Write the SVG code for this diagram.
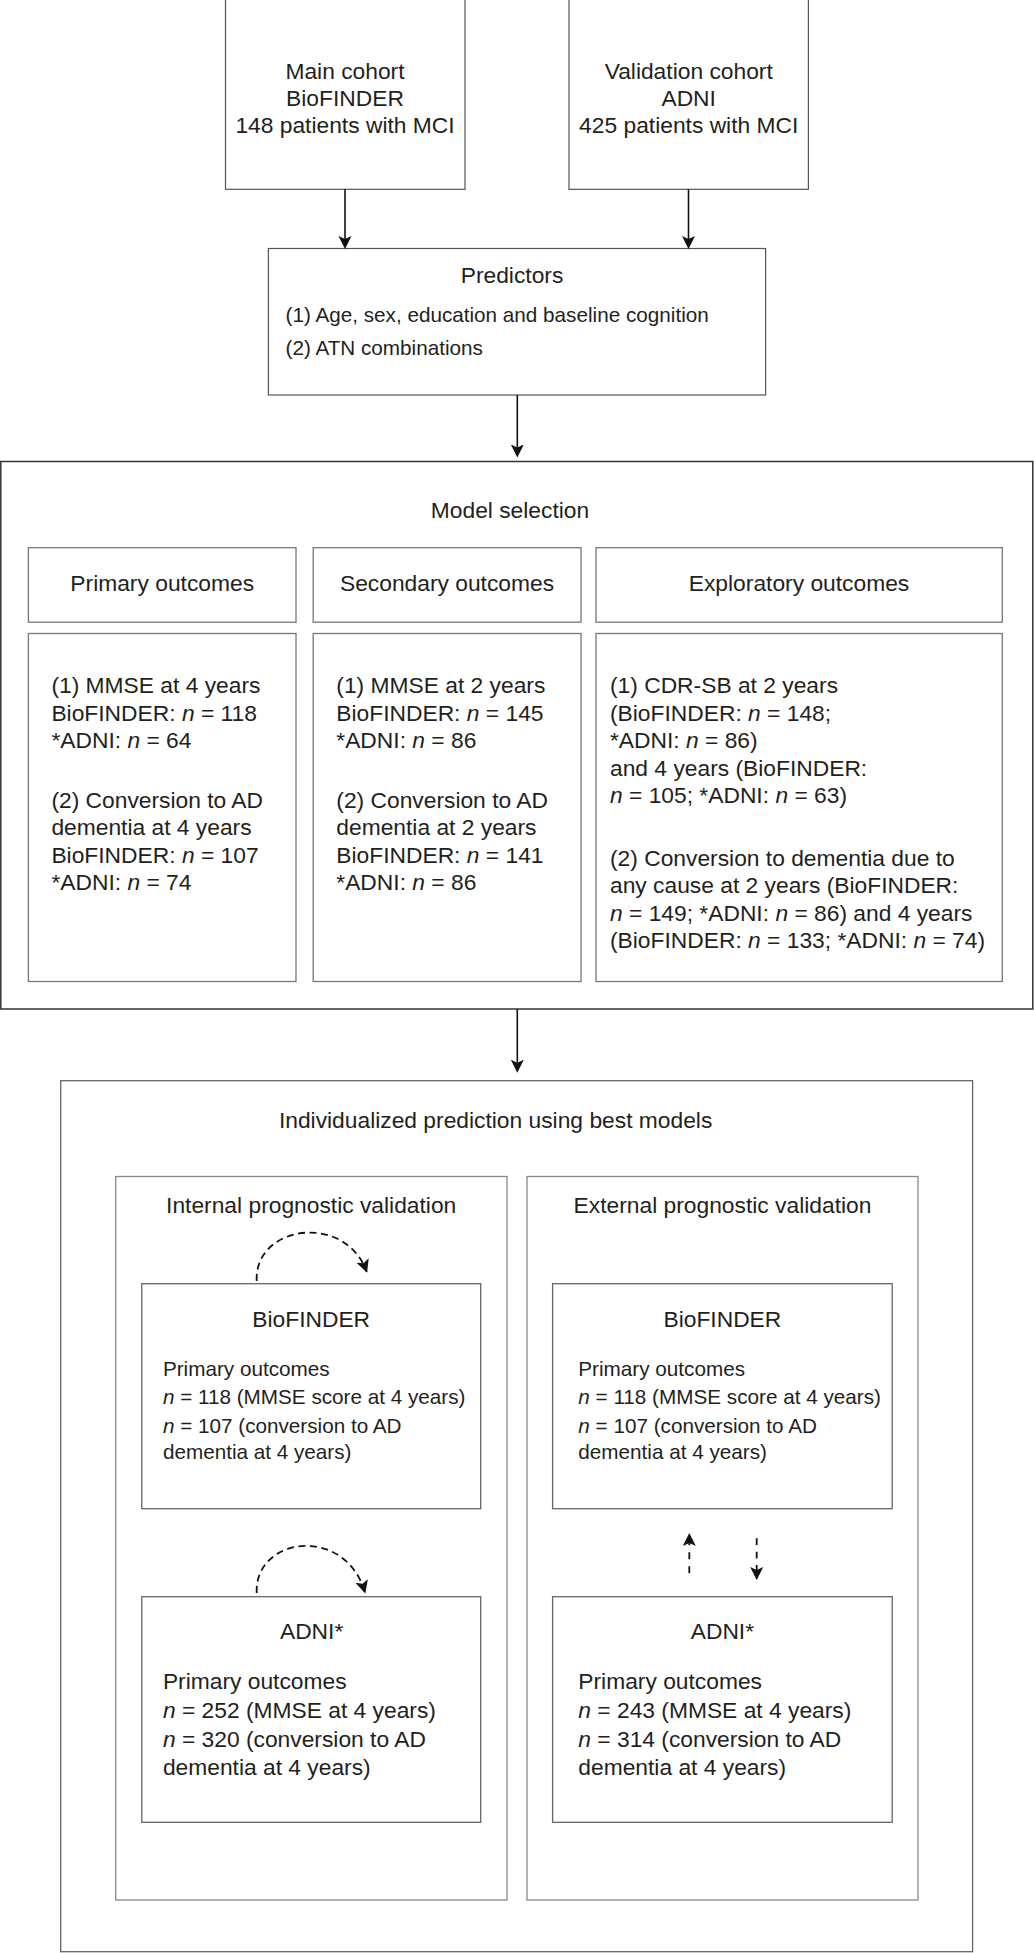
<svg xmlns="http://www.w3.org/2000/svg" width="1034" height="1953" viewBox="0 0 1034 1953">
<style>
text{font-family:"Liberation Sans",Arial,Helvetica,sans-serif;fill:#231f20}
.t{font-size:22.8px}
.s{font-size:20.7px}
.c{text-anchor:middle}
.i{font-style:italic}
.b1{fill:#fff;stroke:#555;stroke-width:1.2}
.b0{fill:#fff;stroke:#333;stroke-width:1.5}
.b2{fill:#fff;stroke:#777;stroke-width:1.3}
.b3{fill:#fff;stroke:#666;stroke-width:1.3}
.b4{fill:#fff;stroke:#888;stroke-width:1.3}
.ar{fill:none;stroke:#111;stroke-width:1.6}
.da{fill:none;stroke:#111;stroke-width:1.8}
</style>
<defs>
<marker id="ah" markerUnits="userSpaceOnUse" markerWidth="14" markerHeight="14" viewBox="0 0 14 14" refX="3" refY="7" orient="auto">
<path d="M0,0.5 L13,7 L0,13.5 L3,7 z" fill="#111"/>
</marker>
<marker id="ah2" markerUnits="userSpaceOnUse" markerWidth="14" markerHeight="14" viewBox="0 0 14 14" refX="12" refY="7" orient="auto">
<path d="M0,0.5 L13,7 L0,13.5 L3,7 z" fill="#111"/>
</marker>
</defs>
<rect width="1034" height="1953" fill="#fff"/>

<g id="main-cohort">
<rect class="b1" x="225.5" y="-1" width="239.5" height="190.3"/>
<text class="t c" x="345" y="79">Main cohort</text>
<text class="t c" x="345" y="106">BioFINDER</text>
<text class="t c" x="345" y="133">148 patients with MCI</text>
</g>

<g id="validation-cohort">
<rect class="b1" x="569" y="-1" width="239.4" height="190.3"/>
<text class="t c" x="688.7" y="79">Validation cohort</text>
<text class="t c" x="688.7" y="106">ADNI</text>
<text class="t c" x="688.7" y="133">425 patients with MCI</text>
</g>

<g id="predictors">
<rect class="b1" x="268.4" y="248.5" width="497.2" height="146.5"/>
<text class="t c" x="512" y="283">Predictors</text>
<text class="s" x="285.5" y="321.5">(1) Age, sex, education and baseline cognition</text>
<text class="s" x="285.5" y="355">(2) ATN combinations</text>
</g>

<g id="model-selection">
<rect class="b0" x="0.8" y="461.5" width="1032" height="547.5"/>
<text class="t c" x="510" y="518">Model selection</text>
</g>

<g id="primary-outcomes">
<rect class="b2" x="28.4" y="547.7" width="267.6" height="74.5"/>
<text class="t c" x="162.2" y="591">Primary outcomes</text>
<rect class="b2" x="28.4" y="633.5" width="267.6" height="348"/>
<text class="t" x="51.4" y="693">(1) MMSE at 4 years</text>
<text class="t" x="51.4" y="720.5">BioFINDER: <tspan class="i">n</tspan> = 118</text>
<text class="t" x="51.4" y="748">*ADNI: <tspan class="i">n</tspan> = 64</text>
<text class="t" x="51.4" y="807.5">(2) Conversion to AD</text>
<text class="t" x="51.4" y="835">dementia at 4 years</text>
<text class="t" x="51.4" y="862.5">BioFINDER: <tspan class="i">n</tspan> = 107</text>
<text class="t" x="51.4" y="890">*ADNI: <tspan class="i">n</tspan> = 74</text>
</g>

<g id="secondary-outcomes">
<rect class="b2" x="313.2" y="547.7" width="267.8" height="74.5"/>
<text class="t c" x="447" y="591">Secondary outcomes</text>
<rect class="b2" x="313.2" y="633.5" width="267.8" height="348"/>
<text class="t" x="336.3" y="693">(1) MMSE at 2 years</text>
<text class="t" x="336.3" y="720.5">BioFINDER: <tspan class="i">n</tspan> = 145</text>
<text class="t" x="336.3" y="748">*ADNI: <tspan class="i">n</tspan> = 86</text>
<text class="t" x="336.3" y="807.5">(2) Conversion to AD</text>
<text class="t" x="336.3" y="835">dementia at 2 years</text>
<text class="t" x="336.3" y="862.5">BioFINDER: <tspan class="i">n</tspan> = 141</text>
<text class="t" x="336.3" y="890">*ADNI: <tspan class="i">n</tspan> = 86</text>
</g>

<g id="exploratory-outcomes">
<rect class="b2" x="596" y="547.7" width="406.3" height="74.5"/>
<text class="t c" x="799" y="591">Exploratory outcomes</text>
<rect class="b2" x="596" y="633.5" width="406.3" height="348"/>
<text class="t" x="610" y="693">(1) CDR-SB at 2 years</text>
<text class="t" x="610" y="720.5">(BioFINDER: <tspan class="i">n</tspan> = 148;</text>
<text class="t" x="610" y="748">*ADNI: <tspan class="i">n</tspan> = 86)</text>
<text class="t" x="610" y="775.5">and 4 years (BioFINDER:</text>
<text class="t" x="610" y="803"><tspan class="i">n</tspan> = 105; *ADNI: <tspan class="i">n</tspan> = 63)</text>
<text class="t" x="610" y="865.5">(2) Conversion to dementia due to</text>
<text class="t" x="610" y="893">any cause at 2 years (BioFINDER:</text>
<text class="t" x="610" y="920.5"><tspan class="i">n</tspan> = 149; *ADNI: <tspan class="i">n</tspan> = 86) and 4 years</text>
<text class="t" x="610" y="948">(BioFINDER: <tspan class="i">n</tspan> = 133; *ADNI: <tspan class="i">n</tspan> = 74)</text>
</g>

<g id="individualized-prediction">
<rect class="b3" x="60.7" y="1080.7" width="911.9" height="871"/>
<text class="t c" x="495.6" y="1128">Individualized prediction using best models</text>
</g>

<g id="internal-validation">
<rect class="b4" x="115.7" y="1176.5" width="391.3" height="723.5"/>
<text class="t c" x="311.2" y="1213">Internal prognostic validation</text>
</g>

<g id="external-validation">
<rect class="b4" x="527" y="1176.5" width="391" height="723.5"/>
<text class="t c" x="722.5" y="1213">External prognostic validation</text>
</g>

<g id="internal-biofinder">
<rect class="b3" x="141.8" y="1283.7" width="338.9" height="225"/>
<text class="t c" x="311.2" y="1326.7">BioFINDER</text>
<text class="s" x="162.9" y="1375.7">Primary outcomes</text>
<text class="s" x="162.9" y="1404.3"><tspan class="i">n</tspan> = 118 (MMSE score at 4 years)</text>
<text class="s" x="162.9" y="1432.7"><tspan class="i">n</tspan> = 107 (conversion to AD</text>
<text class="s" x="162.9" y="1459">dementia at 4 years)</text>
</g>

<g id="external-biofinder">
<rect class="b3" x="552.6" y="1283.7" width="339.6" height="225"/>
<text class="t c" x="722.4" y="1326.7">BioFINDER</text>
<text class="s" x="578.3" y="1375.7">Primary outcomes</text>
<text class="s" x="578.3" y="1404.3"><tspan class="i">n</tspan> = 118 (MMSE score at 4 years)</text>
<text class="s" x="578.3" y="1432.7"><tspan class="i">n</tspan> = 107 (conversion to AD</text>
<text class="s" x="578.3" y="1459">dementia at 4 years)</text>
</g>

<g id="internal-adni">
<rect class="b3" x="141.8" y="1596.7" width="338.9" height="225.6"/>
<text class="t c" x="311.6" y="1639.3">ADNI*</text>
<text class="t" x="162.9" y="1688.5">Primary outcomes</text>
<text class="t" x="162.9" y="1717.5"><tspan class="i">n</tspan> = 252 (MMSE at 4 years)</text>
<text class="t" x="162.9" y="1746.5"><tspan class="i">n</tspan> = 320 (conversion to AD</text>
<text class="t" x="162.9" y="1774.5">dementia at 4 years)</text>
</g>

<g id="external-adni">
<rect class="b3" x="552.6" y="1596.7" width="339.6" height="225.6"/>
<text class="t c" x="722.4" y="1639.3">ADNI*</text>
<text class="t" x="578.3" y="1688.5">Primary outcomes</text>
<text class="t" x="578.3" y="1717.5"><tspan class="i">n</tspan> = 243 (MMSE at 4 years)</text>
<text class="t" x="578.3" y="1746.5"><tspan class="i">n</tspan> = 314 (conversion to AD</text>
<text class="t" x="578.3" y="1774.5">dementia at 4 years)</text>
</g>

<g id="connectors">
<line class="ar" x1="345" y1="189.3" x2="345" y2="239" marker-end="url(#ah)"/>
<line class="ar" x1="688.5" y1="189.3" x2="688.5" y2="239" marker-end="url(#ah)"/>
<line class="ar" x1="517.3" y1="395" x2="517.3" y2="447.5" marker-end="url(#ah)"/>
<line class="ar" x1="517.3" y1="1009" x2="517.3" y2="1062.7" marker-end="url(#ah)"/>
<path class="da" stroke-dasharray="7 4.5" d="M256.7,1281 C254,1225 345,1212 366.7,1271.7" marker-end="url(#ah2)"/>
<path class="da" stroke-dasharray="7 4.5" d="M256.7,1593 C254,1537 345,1524 365,1592.5" marker-end="url(#ah2)"/>
<path class="da" stroke-dasharray="7 7" d="M689.3,1573.3 L689.3,1534" marker-end="url(#ah2)"/>
<path class="da" stroke-dasharray="6.7 6.7" d="M756.7,1538.3 L756.7,1579" marker-end="url(#ah2)"/>
</g>
</svg>
